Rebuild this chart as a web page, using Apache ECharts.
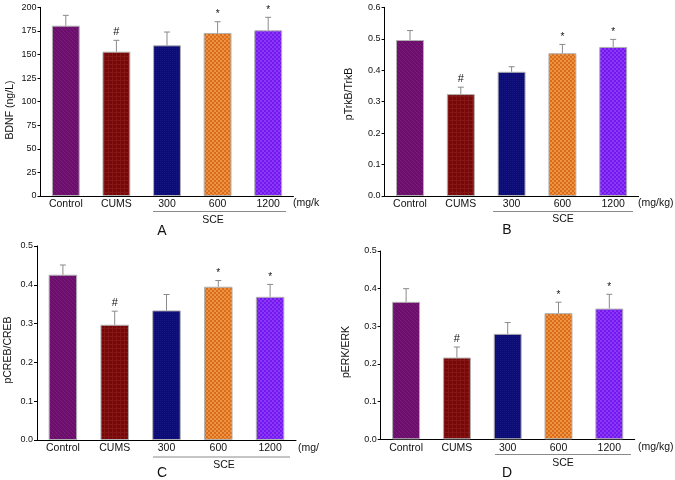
<!DOCTYPE html>
<html><head><meta charset="utf-8">
<script src="https://cdn.jsdelivr.net/npm/echarts@6/dist/echarts.min.js"></script>
<style>html,body{margin:0;padding:0;background:#fff}#c{width:675px;height:480px}</style>
</head><body><div id="c"></div>
<script>
var categories = ['Control','CUMS','300','600','1200'];
var bdnfMean = [180.5, 153, 159.7, 172.8, 175.6];
var bdnfErrTop = [191.5, 165, 173.8, 184.7, 189.4];
var trkbMean = [0.496, 0.324, 0.395, 0.454, 0.474];
var trkbErrTop = [0.526, 0.346, 0.411, 0.482, 0.498];
var crebMean = [0.426, 0.297, 0.334, 0.395, 0.369];
var crebErrTop = [0.451, 0.332, 0.375, 0.411, 0.401];
var erkMean = [0.365, 0.217, 0.280, 0.335, 0.347];
var erkErrTop = [0.400, 0.245, 0.310, 0.364, 0.385];
var marks = ['', '#', '', '*', '*'];
var yNames = ['BDNF (ng/L)', 'pTrkB/TrkB', 'pCREB/CREB', 'pERK/ERK'];
var panelLetters = ['A','B','C','D'];
var unitLabels = ['(mg/k', '(mg/kg)', '(mg/', '(mg/kg)'];
var groupLabel = 'SCE';

var FONT = 'Liberation Sans, Arial, sans-serif';

function pattern(base, light, type) {
  var c = document.createElement('canvas');
  c.width = 4; c.height = 4;
  var g = c.getContext('2d');
  g.fillStyle = base; g.fillRect(0,0,4,4);
  g.fillStyle = light;
  if (type === 'checker') { g.fillRect(0,0,2,2); g.fillRect(2,2,2,2); }
  else if (type === 'grid') { g.fillRect(0,0,4,1); g.fillRect(0,0,1,4); }
  else if (type === 'diag') { g.fillRect(0,0,1,1); g.fillRect(1,1,1,1); g.fillRect(2,2,1,1); g.fillRect(3,3,1,1); }
  else if (type === 'cross') { g.fillRect(0,0,1,1); g.fillRect(2,2,1,1); g.fillRect(2,0,1,1); g.fillRect(0,2,1,1); }
  return {image: c, repeat: 'repeat'};
}
var fills = [
  pattern('#6c0e6c', '#7a1c7c', 'diag'),
  pattern('#740909', '#861616', 'grid'),
  pattern('#0c0c74', '#161682', 'cross'),
  pattern('#d86c1c', '#ee9440', 'checker'),
  pattern('#7418ee', '#8838f6', 'checker')
];

var grids = [
  {left: 40.5, top: 7.3, width: 253, height: 188.7},
  {left: 384.6, top: 7.3, width: 254, height: 188.7},
  {left: 37, top: 246, width: 259, height: 194},
  {left: 380.7, top: 251, width: 254, height: 188.3}
];
var yMax = [200, 0.6, 0.5, 0.5];
var yInt = [25, 0.1, 0.1, 0.1];
var means = [bdnfMean, trkbMean, crebMean, erkMean];
var errs = [bdnfErrTop, trkbErrTop, crebErrTop, erkErrTop];

var option = {animation: false, grid: [], xAxis: [], yAxis: [], series: [], graphic: []};
grids.forEach(function (g, k) {
  option.grid.push(g);
  option.xAxis.push({type: 'category', gridIndex: k, data: categories,
    axisLine: {lineStyle: {color: '#000', width: 1}}, axisTick: {show: false},
    axisLabel: {color: '#111', fontSize: 10.5, fontFamily: FONT, margin: 3}});
  option.yAxis.push({type: 'value', gridIndex: k, min: 0, max: yMax[k], interval: yInt[k],
    axisLine: {show: true, lineStyle: {color: '#000', width: 1}},
    axisTick: {show: true, length: 3, lineStyle: {color: '#000'}},
    splitLine: {show: false},
    axisLabel: {color: '#111', fontSize: 9, fontFamily: FONT, margin: 4,
      formatter: function (v) { return k === 0 ? String(v) : v.toFixed(1); }}});
  option.series.push({type: 'bar', xAxisIndex: k, yAxisIndex: k, barWidth: '55%',
    data: means[k].map(function (v, i) { return {value: v, itemStyle: {color: fills[i]}}; }),
    itemStyle: {borderColor: '#b0b0b0', borderWidth: 1}});
  option.series.push({type: 'custom', xAxisIndex: k, yAxisIndex: k, z: 5,
    data: means[k].map(function (v, i) { return [i, v, errs[k][i]]; }),
    renderItem: function (params, api) {
      var i = api.value(0);
      var p0 = api.coord([i, api.value(1)]);
      var p1 = api.coord([i, api.value(2)]);
      var ch = [
        {type: 'line', shape: {x1: p0[0], y1: p0[1], x2: p1[0], y2: p1[1]}, style: {stroke: '#8a8a8a', lineWidth: 1}},
        {type: 'line', shape: {x1: p1[0]-3, y1: p1[1], x2: p1[0]+3, y2: p1[1]}, style: {stroke: '#8a8a8a', lineWidth: 1}}
      ];
      var m = marks[i];
      if (m) ch.push({type: 'text', style: {text: m, x: p1[0], y: p1[1] - (m === '#' ? 3 : 2),
        align: 'center', verticalAlign: 'bottom', fill: '#111', fontFamily: FONT,
        fontSize: m === '#' ? 11 : 10}});
      return {type: 'group', children: ch};
    }});
});

var G = option.graphic;
function txt(x, y, s, size, rot, align) {
  G.push({type: 'text', x: x, y: y, rotation: rot || 0,
    style: {text: s, fontSize: size, fontFamily: FONT, fill: '#111', align: align || 'center', verticalAlign: 'middle'}});
}
function line(x1, y1, x2) {
  G.push({type: 'line', shape: {x1: x1, y1: y1, x2: x2, y2: y1}, style: {stroke: '#8a8a8a', lineWidth: 1}});
}
// y-axis names
txt(10, 110, yNames[0], 10.5, Math.PI/2);
txt(349, 94, yNames[1], 10.5, Math.PI/2);
txt(8, 350, yNames[2], 10.5, Math.PI/2);
txt(346, 352, yNames[3], 10.5, Math.PI/2);
// unit labels
txt(293, 203, unitLabels[0], 10.5, 0, 'left');
txt(638, 203, unitLabels[1], 10.5, 0, 'left');
txt(298, 448, unitLabels[2], 10.5, 0, 'left');
txt(638, 447, unitLabels[3], 10.5, 0, 'left');
// SCE group lines and labels
line(153, 211.5, 286); txt(213, 220, groupLabel, 10.5);
line(493, 211.5, 633); txt(563, 219, groupLabel, 10.5);
line(153, 457, 290); txt(224, 465, groupLabel, 10.5);
line(495, 454.5, 631); txt(563, 463, groupLabel, 10.5);
// panel letters
txt(162, 231, panelLetters[0], 14);
txt(507, 230, panelLetters[1], 14);
txt(162, 473, panelLetters[2], 14);
txt(507, 473, panelLetters[3], 14);

var chart = echarts.init(document.getElementById('c'), null, {renderer: 'canvas'});
chart.setOption(option);
</script></body></html>
